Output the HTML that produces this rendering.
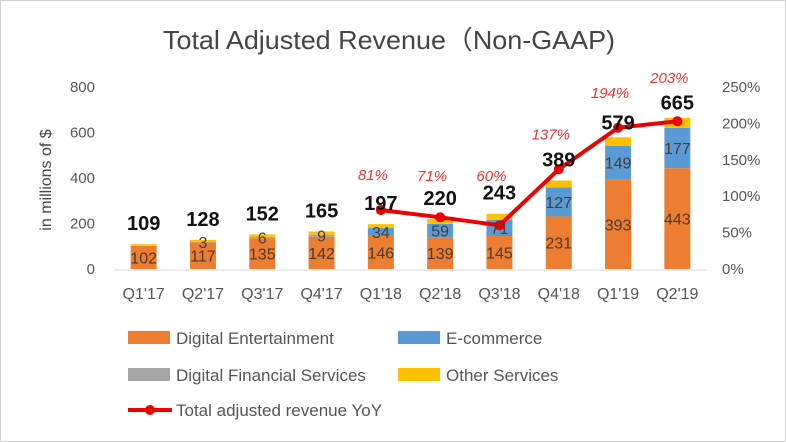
<!DOCTYPE html>
<html><head><meta charset="utf-8"><style>
html,body{margin:0;padding:0;background:#fff}
svg{display:block;font-family:"Liberation Sans","Noto Sans CJK SC",sans-serif}
</style></head><body>
<svg id="chart" width="786" height="442" viewBox="0 0 786 442" xmlns="http://www.w3.org/2000/svg">
<rect x="0.5" y="0.5" width="785" height="441" fill="#fff" stroke="#d0d0d0"/>
<text x="163" y="49" font-size="26" fill="#444" textLength="452" lengthAdjust="spacingAndGlyphs">Total Adjusted Revenue（Non-GAAP)</text>
<text transform="translate(51,180) rotate(-90)" text-anchor="middle" font-size="16" fill="#444">in millions of $</text>
<g id="axes"></g><g id="bars"></g><g id="line"></g><g id="labels"></g>
<g>
<rect x="128" y="331" width="42" height="13" fill="#ed7d31"/>
<text x="176" y="344" font-size="17" fill="#555">Digital Entertainment</text>
<rect x="398" y="331" width="42" height="13" fill="#5b9bd5"/>
<text x="446" y="344" font-size="17" fill="#555">E-commerce</text>
<rect x="128" y="368" width="42" height="13" fill="#a5a5a5"/>
<text x="176" y="381" font-size="17" fill="#555">Digital Financial Services</text>
<rect x="398" y="368" width="42" height="13" fill="#ffc000"/>
<text x="446" y="381" font-size="17" fill="#555">Other Services</text>
<line x1="128" y1="410" x2="172" y2="410" stroke="#e00" stroke-width="4"/>
<circle cx="150" cy="410" r="5" fill="#e00"/>
<text x="176" y="416" font-size="17" fill="#555">Total adjusted revenue YoY</text>
</g>
</svg>
<script>
const categories=["Q1'17","Q2'17","Q3'17","Q4'17","Q1'18","Q2'18","Q3'18","Q4'18","Q1'19","Q2'19"];
const digitalEnt=[102,117,135,142,146,139,145,231,393,443];
const ecommerce=[0,0,0,0,34,59,71,127,149,177];
const digitalFin=[0,3,6,9,0,0,0,0,0,0];
const otherSvc=[7,8,11,14,17,22,27,31,37,45];
const totals=[109,128,152,165,197,220,243,389,579,665];
const yoy=[null,null,null,null,81,71,60,137,194,203];
const leftTicks=[0,200,400,600,800];
const rightTicks=[0,50,100,150,200,250];

const NS="http://www.w3.org/2000/svg";
const y0=269,yTop=87,x0=114,step=59.3,bw=26;
const yL=v=>y0-(v/800)*(y0-yTop);
const yR=v=>y0-(v/250)*(y0-yTop);
const xC=i=>x0+step*(i+0.5);
function mk(tag,attrs,parent,txt){const e=document.createElementNS(NS,tag);for(const k in attrs)e.setAttribute(k,attrs[k]);if(txt!==undefined)e.textContent=txt;document.getElementById(parent).appendChild(e);return e;}

const ax=mk('line',{x1:x0,x2:x0+step*10,y1:y0+1,y2:y0+1,stroke:'#d9d9d9','stroke-width':1},'axes');


leftTicks.forEach(t=>{const e=mk('text',{x:95,y:yL(t)+5,'text-anchor':'end','font-size':15,fill:'#555'},'axes',String(t));

});
rightTicks.forEach(t=>{const e=mk('text',{x:722,y:yR(t)+5,'font-size':15,fill:'#555'},'axes',t+'%');

});
categories.forEach((c,i)=>{const e=mk('text',{x:xC(i),y:299,'text-anchor':'middle','font-size':16,fill:'#555'},'axes',c);

});

const series=[[digitalEnt,'#ed7d31','digital-entertainment'],[ecommerce,'#5b9bd5','e-commerce'],[digitalFin,'#a5a5a5','digital-financial'],[otherSvc,'#ffc000','other-services']];
categories.forEach((c,i)=>{let base=0;
series.forEach(([arr,col,nm],si)=>{const v=arr[i];if(v<=0)return;
const r=mk('rect',{x:xC(i)-bw/2,y:yL(base+v),width:bw,height:yL(base)-yL(base+v),fill:col},'bars');


if(si<3){const t=mk('text',{x:xC(i),y:(yL(base)+yL(base+v))/2+6,'text-anchor':'middle','font-size':16,fill:'#4a3a30'},'labels',String(v));

}
base+=v;});
const off=totals[i]>500?8:14;
const tt=mk('text',{x:xC(i),y:yL(totals[i])-off,'text-anchor':'middle','font-size':20,'font-weight':'bold',fill:'#111'},'labels',String(totals[i]));

});

let pts=[];yoy.forEach((v,i)=>{if(v!==null)pts.push([xC(i),yR(v),v,i]);});
const pl=mk('polyline',{points:pts.map(p=>p[0]+','+p[1]).join(' '),fill:'none',stroke:'#e00','stroke-width':4},'line');


pts.forEach(p=>{const c=mk('circle',{cx:p[0],cy:p[1],r:5,fill:'#e00'},'line');


const t=mk('text',{x:p[0]-8,y:Math.min(p[1]-30-(p[2]>=200?8:0),181),'text-anchor':'middle','font-size':15,'font-style':'italic',fill:'#e33'},'labels',p[2]+'%');

});
</script>
</body></html>
